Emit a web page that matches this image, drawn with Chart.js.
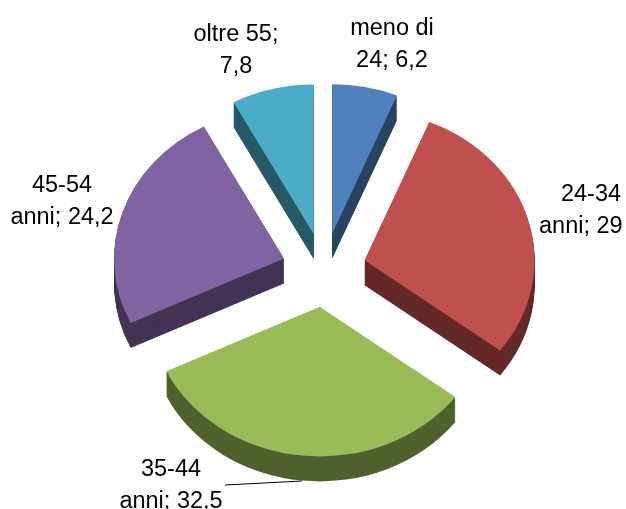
<!DOCTYPE html>
<html>
<head>
<meta charset="utf-8">
<style>
html, body { margin: 0; padding: 0; background: #fff; }
#wrap { width: 626px; height: 509px; }
</style>
<script src="https://cdn.jsdelivr.net/npm/chart.js@4/dist/chart.umd.min.js"></script>
</head>
<body>
<div id="wrap"><canvas id="myChart" width="626" height="509"></canvas></div>
<script>
const categories = ['meno di 24', '24-34 anni', '35-44 anni', '45-54 anni', 'oltre 55'];
const values = [6.2, 29, 32.5, 24.2, 7.8];
const topColors = ['#4F81BD', '#C0504D', '#9BBB59', '#8064A2', '#4BACC6'];
const sideColors = ['#294362', '#642A28', '#51612E', '#433454', '#275967'];
const labelLines = [
    ['meno di', '24; 6,2'],
    ['24-34', 'anni; 29'],
    ['35-44', 'anni; 32,5'],
    ['45-54', 'anni; 24,2'],
    ['oltre 55;', '7,8']
];
const labelAnchors = [[392, 35], [591, 201], [171, 476], [62, 192], [236, 41]];

const squash = 0.88;
const depth = 25;
const explode = 42;
const centerX = 324;
const centerY = 270;

// move one slice out along its middle angle. The arc's own offset option also grows
// the radius of small slices, so it is not used here
function moveOut(ctx, arc) {
    const mid = (arc.startAngle + arc.endAngle) / 2;
    ctx.translate(Math.cos(mid) * explode, Math.sin(mid) * explode);
}

const pie3d = {
    id: 'pie3d',
    beforeDatasetsDraw(chart) {
        const ctx = chart.ctx;
        const area = chart.chartArea;
        const arcs = chart.getDatasetMeta(0).data;
        ctx.save();
        ctx.translate(centerX, centerY);
        ctx.scale(1, squash);
        ctx.translate(-(area.left + area.right) / 2, -(area.top + area.bottom) / 2);
        // side walls: same arcs repeated downwards in the dark colour
        arcs.forEach((arc, i) => {
            const saved = arc.options;
            arc.options = Object.assign({}, saved, { backgroundColor: sideColors[i] });
            for (let d = depth; d > 0; d--) {
                ctx.save();
                ctx.translate(0, d / squash);
                moveOut(ctx, arc);
                arc.draw(ctx);
                ctx.restore();
            }
            arc.options = saved;
        });
        arcs.forEach(arc => {
            ctx.save();
            moveOut(ctx, arc);
            arc.draw(ctx);
            ctx.restore();
        });
        ctx.restore();
        return false;
    },
    afterDraw(chart) {
        const ctx = chart.ctx;
        ctx.save();
        ctx.fillStyle = '#000';
        ctx.font = '23.5px "Liberation Sans", Arial, sans-serif';
        labelLines.forEach((lines, i) => {
            lines.forEach((line, j) => {
                // the reference cuts this one at the frame, so it starts where the full line would
                const cut = i === 1 && j === 1;
                ctx.textAlign = cut ? 'left' : 'center';
                ctx.fillText(line, cut ? 539 : labelAnchors[i][0], labelAnchors[i][1] + j * 32);
            });
        });
        // leader line of the 35-44 label
        ctx.strokeStyle = '#000';
        ctx.lineWidth = 1;
        ctx.beginPath();
        ctx.moveTo(225, 485);
        ctx.lineTo(302, 481);
        ctx.stroke();
        ctx.restore();
    }
};

new Chart(document.getElementById('myChart').getContext('2d'), {
    type: 'pie',
    data: {
        labels: categories,
        datasets: [{
            data: values,
            backgroundColor: topColors,
            borderWidth: 0,
            hoverOffset: 0
        }]
    },
    options: {
        responsive: false,
        animation: false,
        radius: 170,
        plugins: {
            legend: { display: false },
            title: { display: false },
            tooltip: { enabled: false }
        }
    },
    plugins: [pie3d]
});
</script>
</body>
</html>
